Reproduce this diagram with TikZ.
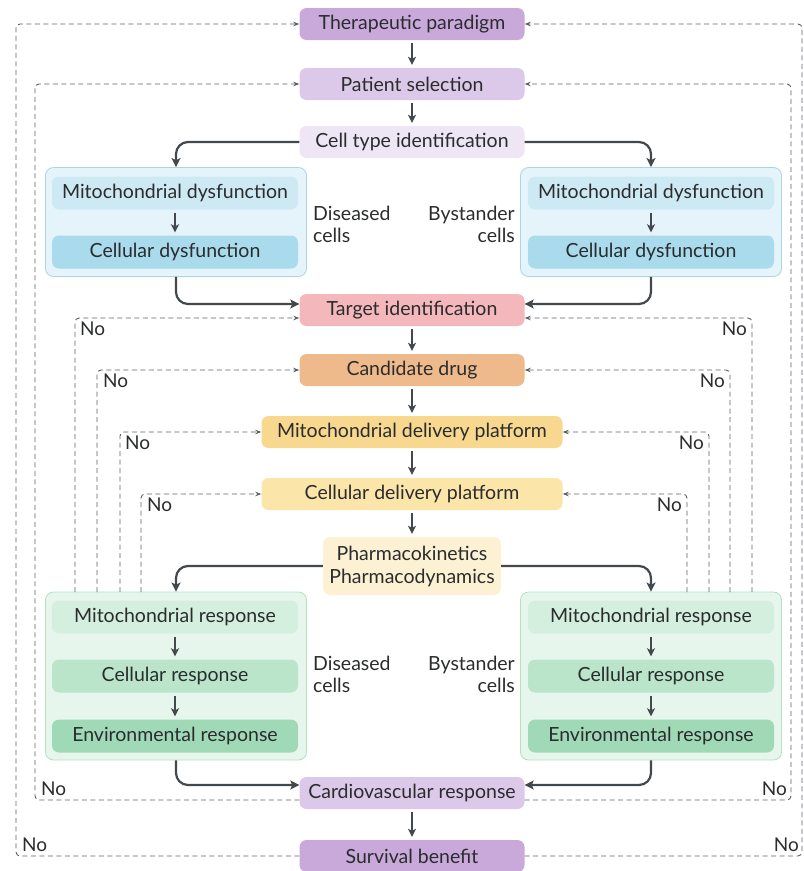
\documentclass[tikz,border=0pt]{standalone}
\usepackage{fontspec}
\setmainfont{Lato}
\usetikzlibrary{arrows.meta,positioning}

\definecolor{txt}{HTML}{2A2C2E}
\definecolor{lnk}{HTML}{43484C}
\definecolor{dsh}{HTML}{5C5F62}
\definecolor{purA}{HTML}{C9A9DA}
\definecolor{purB}{HTML}{DCC8E8}
\definecolor{purC}{HTML}{EEE5F5}
\definecolor{pinkA}{HTML}{F4B7BC}
\definecolor{orA}{HTML}{EFBA8B}
\definecolor{yelA}{HTML}{F8D88F}
\definecolor{yelB}{HTML}{FBE5A9}
\definecolor{yelC}{HTML}{FDF1D3}
\definecolor{bluBg}{HTML}{E4F4FA}
\definecolor{bluLn}{HTML}{A9D5E5}
\definecolor{bluA}{HTML}{CDEAF4}
\definecolor{bluB}{HTML}{A9DBEC}
\definecolor{grnBg}{HTML}{E7F6ED}
\definecolor{grnLn}{HTML}{B3DFC3}
\definecolor{grnA}{HTML}{D4EFDE}
\definecolor{grnB}{HTML}{BAE5CA}
\definecolor{grnC}{HTML}{A0D9B5}

\begin{document}
\begin{tikzpicture}[x=1pt,y=-1pt,
    box/.style={rounded corners=7pt, minimum height=32pt, inner sep=2pt,
      text=txt, font=\fontsize{19.5}{23}\selectfont},
    wide/.style={box, minimum width=225pt},
    inbox/.style={box, minimum width=246pt, minimum height=33pt},
    grp/.style={rounded corners=8pt, draw, line width=0.8pt, minimum width=261pt},
    celltag/.style={text=txt, font=\fontsize{19.5}{22}\selectfont, inner sep=0pt},
    nolab/.style={text=txt, font=\fontsize{19}{20}\selectfont, inner sep=1pt},
    flow/.style={draw=lnk, line width=2.2pt, rounded corners=12pt,
      -{Stealth[length=9pt,width=9pt,inset=2pt]}},
    down/.style={draw=lnk, line width=2pt, shorten <=3pt, shorten >=3pt,
      -{Stealth[length=8pt,width=8pt,inset=2pt]}},
    back/.style={draw=dsh, line width=0.9pt, dash pattern=on 5pt off 3.5pt,
      rounded corners=4pt, -{Stealth[length=6pt,width=4.5pt]}}]

  \useasboundingbox (0,0) rectangle (804,871);

  % main column
  \node[wide, fill=purA] (paradigm) at (412,24)  {Therapeutic paradigm};
  \node[wide, fill=purB] (patient)  at (412,84)  {Patient selection};
  \node[wide, fill=purC] (celltype) at (412,142) {Cell type identification};
  \node[wide, fill=pinkA] (target)  at (412,310) {Target identification};
  \node[wide, fill=orA]   (drug)    at (412,370) {Candidate drug};
  \node[box, fill=yelA, minimum width=301pt] (mitodel)  at (412,432) {Mitochondrial delivery platform};
  \node[box, fill=yelB, minimum width=301pt] (celldel)  at (412,494) {Cellular delivery platform};
  \node[box, fill=yelC, minimum width=178pt, minimum height=58pt, align=center] (pkpd) at (412,566) {Pharmacokinetics\\Pharmacodynamics};
  \node[wide, fill=purB] (cardio)   at (412,793) {Cardiovascular response};
  \node[wide, fill=purA] (survival) at (412,856) {Survival benefit};

  % dysfunction groups
  \node[grp, draw=bluLn, fill=bluBg, minimum height=109pt] (dysL) at (176,222) {};
  \node[grp, draw=bluLn, fill=bluBg, minimum height=109pt] (dysR) at (651,222) {};
  \node[inbox, fill=bluA] (mdL) at (175,193) {Mitochondrial dysfunction};
  \node[inbox, fill=bluB] (cdL) at (175,252) {Cellular dysfunction};
  \node[inbox, fill=bluA] (mdR) at (651,193) {Mitochondrial dysfunction};
  \node[inbox, fill=bluB] (cdR) at (651,252) {Cellular dysfunction};
  \node[celltag, anchor=west, align=left]  (disA) at (313,224) {Diseased\\cells};
  \node[celltag, anchor=east, align=right] (bysA) at (515,224) {Bystander\\cells};

  % response groups
  \node[grp, draw=grnLn, fill=grnBg, minimum height=168pt] (respL) at (176,676) {};
  \node[grp, draw=grnLn, fill=grnBg, minimum height=168pt] (respR) at (651,676) {};
  \node[inbox, fill=grnA] (mrL) at (175,617) {Mitochondrial response};
  \node[inbox, fill=grnB] (crL) at (175,676) {Cellular response};
  \node[inbox, fill=grnC] (erL) at (175,736) {Environmental response};
  \node[inbox, fill=grnA] (mrR) at (651,617) {Mitochondrial response};
  \node[inbox, fill=grnB] (crR) at (651,676) {Cellular response};
  \node[inbox, fill=grnC] (erR) at (651,736) {Environmental response};
  \node[celltag, anchor=west, align=left]  (disB) at (313,674) {Diseased\\cells};
  \node[celltag, anchor=east, align=right] (bysB) at (515,674) {Bystander\\cells};

  % down arrows
  \path[down] (paradigm) -- (patient);
  \path[down] (patient) -- (celltype);
  \path[down] (target) -- (drug);
  \path[down] (drug) -- (mitodel);
  \path[down] (mitodel) -- (celldel);
  \path[down] (celldel) -- (pkpd);
  \path[down] (cardio) -- (survival);
  \path[down] (mdL) -- (cdL);
  \path[down] (mdR) -- (cdR);
  \path[down] (mrL) -- (crL);
  \path[down] (crL) -- (erL);
  \path[down] (mrR) -- (crR);
  \path[down] (crR) -- (erR);

  % branches
  \path[flow] (celltype.west) -| (dysL.north);
  \path[flow] (celltype.east) -| (dysR.north);
  \path[flow] (dysL.south) |- ([yshift=6pt]target.west);
  \path[flow] (dysR.south) |- ([yshift=6pt]target.east);
  \path[flow] (pkpd.west) -| (respL.north);
  \path[flow] (pkpd.east) -| (respR.north);
  \path[flow] (respL.south) |- ([yshift=8pt]cardio.west);
  \path[flow] (respR.south) |- ([yshift=8pt]cardio.east);

  % feedback start points
  \coordinate (outL) at (16,440);
  \coordinate (outR) at (802,440);
  \coordinate (midL) at (35,440);
  \coordinate (midR) at (791,440);
  \coordinate (fbL1) at (75,592);
  \coordinate (fbL2) at (97,592);
  \coordinate (fbL3) at (120,592);
  \coordinate (fbL4) at (141,592);
  \coordinate (fbR1) at (752,592);
  \coordinate (fbR2) at (730,592);
  \coordinate (fbR3) at (709,592);
  \coordinate (fbR4) at (687,592);

  % feedback loops
  \path[back] (survival.west) -| (outL) |- (paradigm.west);
  \path[back] (survival.east) -| (outR) |- (paradigm.east);
  \path[back] ([yshift=-7pt]cardio.west) -| (midL) |- (patient.west);
  \path[back] ([yshift=-7pt]cardio.east) -| (midR) |- (patient.east);
  \path[back] (fbL1) |- ([yshift=-8pt]target.west);
  \path[back] (fbR1) |- ([yshift=-8pt]target.east);
  \path[back] (fbL2) |- (drug.west);
  \path[back] (fbR2) |- (drug.east);
  \path[back] (fbL3) |- (mitodel.west);
  \path[back] (fbR3) |- (mitodel.east);
  \path[back] (fbL4) |- (celldel.west);
  \path[back] (fbR4) |- (celldel.east);

  % labels
  \node[nolab, anchor=north west] (noT1) at (79,321) {No};
  \node[nolab, anchor=north east] (noT2) at (748,321) {No};
  \node[nolab, anchor=north west] (noD1) at (102,373) {No};
  \node[nolab, anchor=north east] (noD2) at (726,373) {No};
  \node[nolab, anchor=north west] (noM1) at (124,435) {No};
  \node[nolab, anchor=north east] (noM2) at (705,435) {No};
  \node[nolab, anchor=north west] (noC1) at (146,497) {No};
  \node[nolab, anchor=north east] (noC2) at (683,497) {No};
  \node[nolab, anchor=south west] (noV1) at (40,797) {No};
  \node[nolab, anchor=south east] (noV2) at (788,797) {No};
  \node[nolab, anchor=south west] (noS1) at (21,853) {No};
  \node[nolab, anchor=south east] (noS2) at (800,853) {No};
\end{tikzpicture}
\end{document}
